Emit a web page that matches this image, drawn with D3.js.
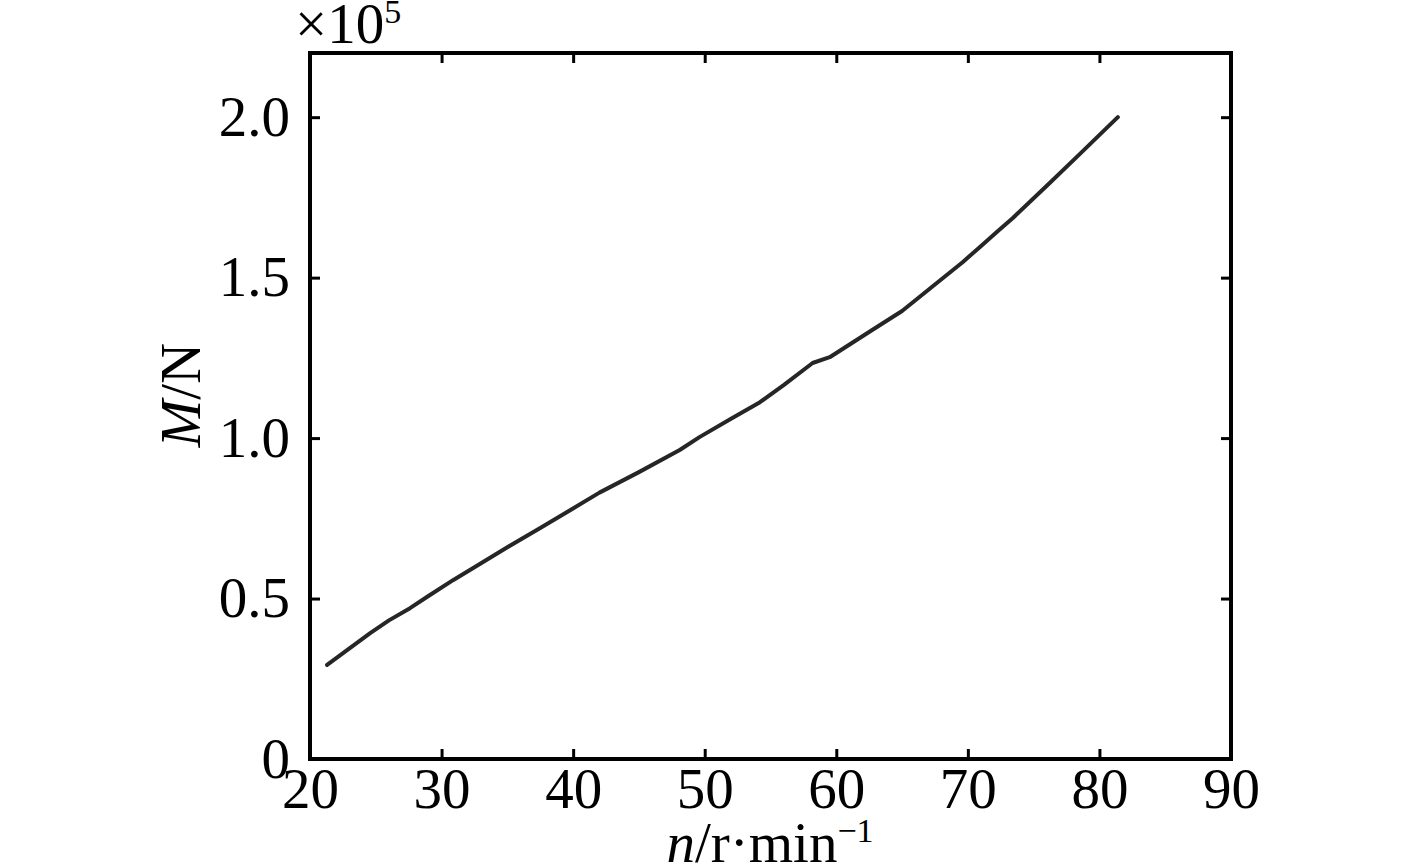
<!DOCTYPE html>
<html>
<head>
<meta charset="UTF-8" />
<title>M vs n</title>
<script src="https://d3js.org/d3.v7.min.js"></script>
<style>
  body { margin: 0; background: #fff; }
  text { font-family: "Liberation Serif", "Times New Roman", serif; fill: #000; }
</style>
</head>
<body>
<svg id="chart" width="1417" height="865"></svg>
<script>
// speed n (r/min) and M (x10^5 N)
const speed = [21.3, 23.0, 24.6, 26.0, 27.6, 29.0, 30.9, 33, 35, 37.5, 39.8, 42, 45, 48.1, 49.6,
  52, 54.2, 56, 58.2, 59.5, 62.7, 65, 67.9, 69.6, 70.9, 72.2, 73.4, 76.2, 78.5, 81.4];
const moment = [0.293, 0.345, 0.393, 0.432, 0.470, 0.508, 0.558, 0.61, 0.66, 0.72, 0.776, 0.83, 0.894, 0.963, 1.003,
  1.06, 1.112, 1.165, 1.234, 1.252, 1.336, 1.396, 1.492, 1.548, 1.595, 1.642, 1.685, 1.794, 1.885, 2.0];
const xTicks = [20, 30, 40, 50, 60, 70, 80, 90];
const yTicks = [0, 0.5, 1.0, 1.5, 2.0];

const plotL = 310, plotR = 1231, plotT = 53, plotB = 759;
const svg = d3.select('#chart');

const x = d3.scaleLinear().domain([20, 90]).range([plotL, plotR]);
const y = d3.scaleLinear().domain([0, 2.2]).range([plotB, plotT]);

const fs = 57;
const yFmt = d => d === 0 ? '0' : d.toFixed(1);

function styleAxis(g) {
  g.select('.domain').remove();
  g.selectAll('.tick line').attr('stroke', '#000').attr('stroke-width', 3);
  g.selectAll('.tick text').attr('font-size', fs).attr('fill', '#000')
    .style('font-family', '"Liberation Serif", "Times New Roman", serif');
}

svg.append('g').attr('transform', `translate(0,${plotB})`)
  .call(d3.axisBottom(x).tickValues(xTicks).tickSizeInner(-10).tickSizeOuter(0).tickPadding(9))
  .call(styleAxis);
svg.append('g').attr('transform', `translate(0,${plotT})`)
  .call(d3.axisTop(x).tickValues(xTicks).tickSizeInner(-10).tickSizeOuter(0).tickFormat(''))
  .call(styleAxis);
svg.append('g').attr('transform', `translate(${plotL},0)`)
  .call(d3.axisLeft(y).tickValues(yTicks).tickSizeInner(-10).tickSizeOuter(0).tickPadding(20).tickFormat(yFmt))
  .call(styleAxis);
svg.append('g').attr('transform', `translate(${plotR},0)`)
  .call(d3.axisRight(y).tickValues(yTicks).tickSizeInner(-10).tickSizeOuter(0).tickFormat(''))
  .call(styleAxis);

// frame
svg.append('rect')
  .attr('x', plotL).attr('y', plotT)
  .attr('width', plotR - plotL).attr('height', plotB - plotT)
  .attr('fill', 'none').attr('stroke', '#000').attr('stroke-width', 4);

// curve
const line = d3.line().x((d, i) => x(speed[i])).y(d => y(d));
svg.append('path')
  .datum(moment)
  .attr('d', line)
  .attr('fill', 'none')
  .attr('stroke', '#262626')
  .attr('stroke-width', 4)
  .attr('stroke-linecap', 'round')
  .attr('stroke-linejoin', 'round');

// exponent marker
const ex = svg.append('text').attr('x', 295).attr('y', 43).attr('font-size', fs);
ex.append('tspan').text('×10');
ex.append('tspan').attr('font-size', 34).attr('dy', -20).text('5');

// x label
const xl = svg.append('text').attr('x', 770).attr('y', 862).attr('font-size', fs).attr('text-anchor', 'middle');
xl.append('tspan').attr('font-style', 'italic').text('n');
xl.append('tspan').text('/r·min');
xl.append('tspan').attr('font-size', 34).attr('dy', -20).text('−1');

// y label
const yl = svg.append('text').attr('transform', 'translate(200,395) rotate(-90)')
  .attr('font-size', fs).attr('text-anchor', 'middle');
yl.append('tspan').attr('font-style', 'italic').text('M');
yl.append('tspan').text('/N');
</script>
</body>
</html>
